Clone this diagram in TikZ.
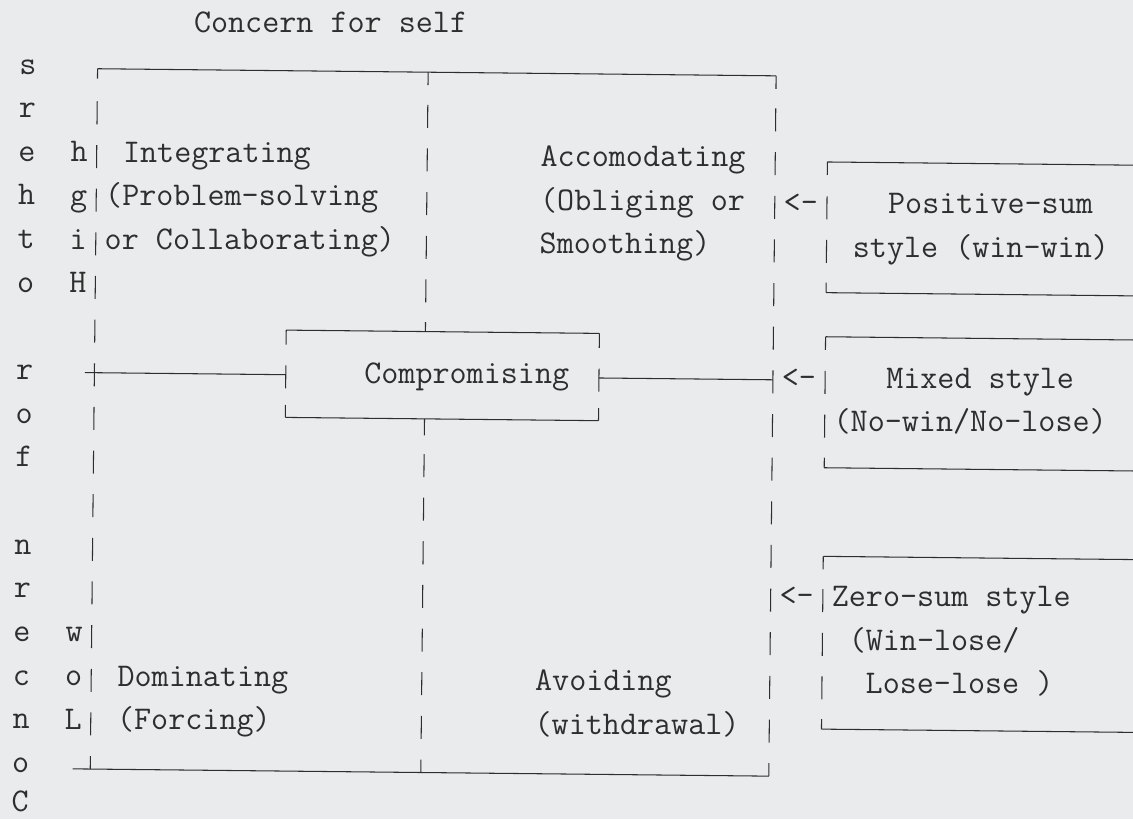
\documentclass[tikz,border=0pt]{standalone}
\usepackage{fontspec}
\definecolor{paper}{HTML}{EAEBED}
\definecolor{ink}{HTML}{2E2E2E}
\newcommand{\rowy}[1]{(66+43.65*(#1))}
\newcommand{\colx}[1]{(19.3+17.4*(#1))}
\newcommand{\fullseg}[2]{\draw[frame] (#1,{\rowy{#2}-9}) -- (#1,{\rowy{#2}+14});}
\begin{document}
\begin{tikzpicture}[x=0.2mm,y=-0.2mm,
  frame/.style={draw=ink, line width=0.6pt},
  tt/.style={anchor=base west, inner sep=0pt, text=ink, font=\ttfamily\fontsize{18.86}{21}\selectfont},
  ch/.style={tt, anchor=base}]
\fill[paper] (0,0) rectangle (1133,819);
\useasboundingbox (0,0) rectangle (1133,819);
\clip (0,0) rectangle (1133,819);
\begin{scope}[rotate around={-0.6:(28,66)}]
% ---------- texts ----------
\node[tt] (title) at ({\colx{10}},{\rowy{-1}+8}) {Concern for self};
\foreach \r/\l in {0/s,1/r,2/e,3/h,4/t,5/o,7/r,8/o,9/f,11/n,12/r,13/e,14/c,15/n,16/o}
  \node[ch] (oth\r) at (28,{\rowy{\r}+8}) {\l};
\node[ch] (oth17) at (28,{\rowy{17}+4}) {C};
\foreach \r/\l in {2/h,3/g,4/i,5/H,13/w,14/o,15/L}
  \node[ch] (hl\r) at (80.2,{\rowy{\r}+8}) {\l};
\node[tt] (integ)  at ({\colx{6}},{\rowy{2}+8}) {Integrating};
\node[tt] (prob)   at ({\colx{5}},{\rowy{3}+8}) {(Problem-solving};
\node[tt] (collab) at ({\colx{5}},{\rowy{4}+8}) {or Collaborating)};
\node[tt] (accom)  at ({\colx{30}},{\rowy{2}+8}) {Accomodating};
\node[tt] (oblig)  at ({\colx{30}},{\rowy{3}+8}) {(Obliging or};
\node[tt] (smooth) at ({\colx{30}},{\rowy{4}+8}) {Smoothing)};
\node[tt] (comp)   at ({\colx{20}},{\rowy{7}+8}) {Compromising};
\node[tt] (domin)  at ({\colx{6}},{\rowy{14}+8}) {Dominating};
\node[tt] (forc)   at ({\colx{6}},{\rowy{15}+8}) {(Forcing)};
\node[tt] (avoid)  at ({\colx{30}},{\rowy{14}+8}) {Avoiding};
\node[tt] (withd)  at ({\colx{30}},{\rowy{15}+8}) {(withdrawal)};
\node[tt] (pos1)   at ({\colx{50}},{\rowy{3}+8}) {Positive-sum};
\node[tt] (pos2)   at ({\colx{48}},{\rowy{4}+8}) {style (win-win)};
\node[tt] (mix1)   at ({\colx{50}},{\rowy{7}+8}) {Mixed style};
\node[tt] (mix2)   at ({\colx{47}},{\rowy{8}+8}) {(No-win/No-lose)};
\node[tt] (zero1)  at ({\colx{47}},{\rowy{12}+8}) {Zero-sum style};
\node[tt] (zero2)  at ({\colx{48}},{\rowy{13}+8}) {(Win-lose/};
\node[tt] (zero3)  at ({\colx{49}},{\rowy{14}+8}) {Lose-lose )};
\foreach \r in {3,7,12}
  \node[tt] (arr\r) at ({\colx{44}},{\rowy{\r}+8}) {<-};
% ---------- main frame ----------
\coordinate (tl) at (97.6,68);
\coordinate (tr) at (776.2,68);
\coordinate (bl) at (80,768.4);
\coordinate (br) at (776.2,768.4);
\draw[frame] (tl) -- (tr);
\draw[frame] (bl) -- (br);
\foreach \r in {1,...,15} {\fullseg{97.6}{\r} \fullseg{776.2}{\r}}
\foreach \r in {1,...,5,9,10,...,15} {\fullseg{428.2}{\r}}
\draw[frame] (97.6,68) -- (97.6,{\rowy{0}+12});
\draw[frame] (97.6,{\rowy{16}-9}) -- (97.6,768.4);
\draw[frame] (428.2,68) -- (428.2,{\rowy{0}+15});
\draw[frame] (428.2,{\rowy{6}-10}) -- (428.2,327.4);
\draw[frame] (428.2,414.7) -- (428.2,{\rowy{8}+16});
\draw[frame] (428.2,{\rowy{16}-9}) -- (428.2,768.4);
\draw[frame] (776.2,68) -- (776.2,{\rowy{0}+15});
\draw[frame] (776.2,{\rowy{16}-9}) -- (776.2,768.4);
% ---------- compromising box ----------
\draw[frame] (289,327.4) -- (602.2,327.4);
\draw[frame] (289,414.7) -- (602.2,414.7);
\foreach \x in {289,602.2} {
  \draw[frame] (\x,327.4) -- (\x,{\rowy{6}+14});
  \fullseg{\x}{7}
  \draw[frame] (\x,{\rowy{8}-13}) -- (\x,414.7);
}
\coordinate (leftX) at (88,372);
\coordinate (cmpW) at (289,372);
\coordinate (cmpE) at (602.2,372);
\coordinate (rightX) at (776.2,372);
\draw[frame] (leftX) -- (cmpW);
\draw[frame] (cmpE) -- (rightX);
% ---------- right boxes ----------
\foreach \t/\b in {153.6/284.3, 328.4/459.4, 548/720.8} {
  \draw[frame] (828.4,\t) -- (1160,\t);
  \draw[frame] (828.4,\b) -- (1160,\b);
  \draw[frame] (828.4,\t) -- (828.4,\t+13);
  \draw[frame] (828.4,\b-10) -- (828.4,\b);
}
\foreach \r in {3,4,7,8,12,13,14} {\fullseg{828.4}{\r}}
\end{scope}
\end{tikzpicture}
\end{document}
